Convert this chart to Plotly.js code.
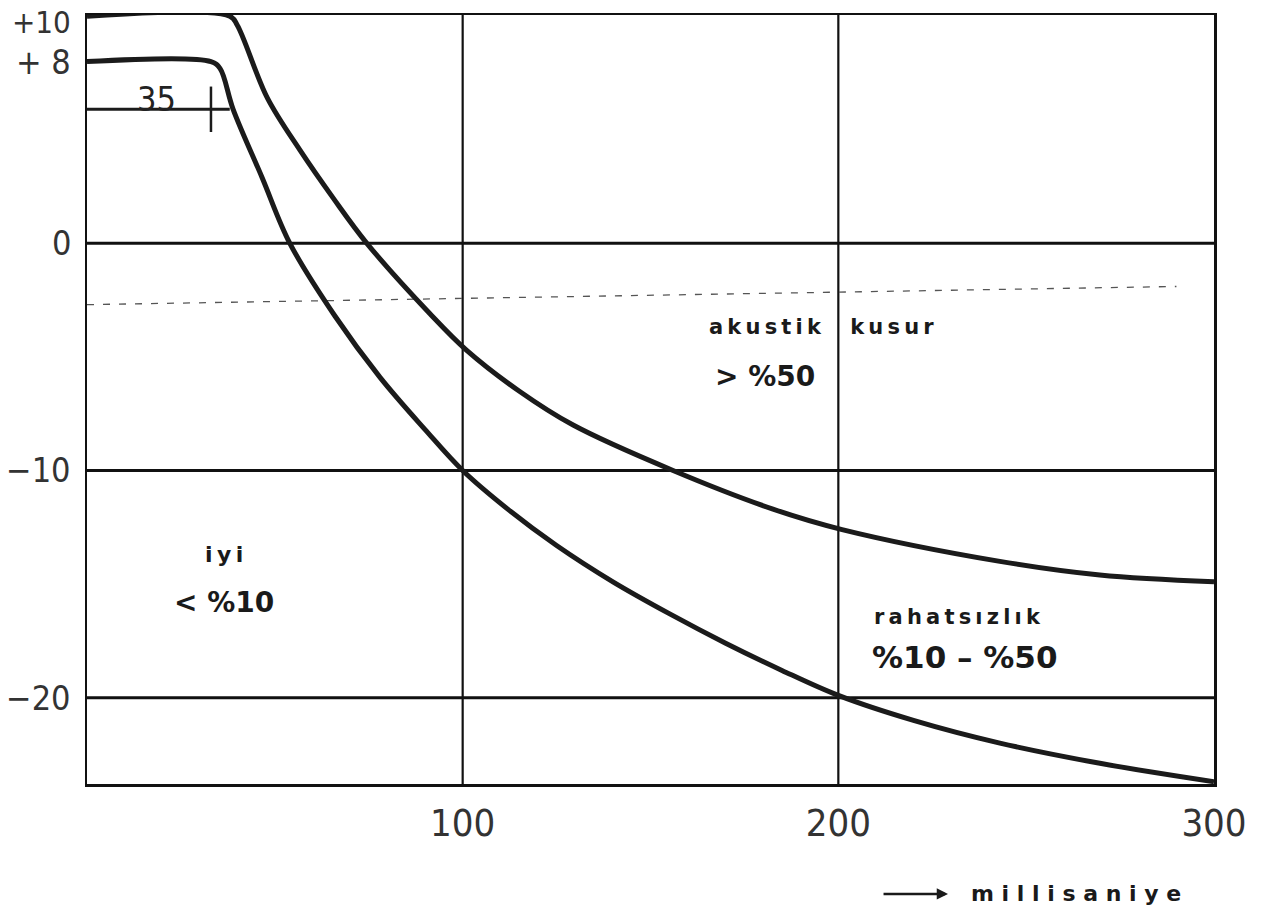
<!DOCTYPE html>
<html>
<head>
<meta charset="utf-8">
<script src="https://cdn.plot.ly/plotly-3.0.1.min.js"></script>
<style>html,body{margin:0;padding:0;background:#fff;}#chart{width:1263px;height:907px;}</style>
</head>
<body>
<div id="chart"></div>
<script>
// ---- data ----
const upperX = [0, 38, 40, 48, 56.7, 65.5, 74.5, 91.3, 101, 115, 129.4, 156, 182.6, 201, 243, 269.6, 300];
const upperY = [10, 10, 9.6, 6.4, 4.1, 2.0, 0, -3.1, -4.7, -6.5, -8.0, -10.0, -11.7, -12.6, -14.0, -14.6, -14.9];

const lowerX = [0, 33, 35.4, 38.9, 46.6, 54, 66, 78, 90, 100, 112, 125, 140, 155, 170, 185, 200, 220, 243, 270, 300];
const lowerY = [8, 8, 7.7, 5.9, 2.9, 0, -3.2, -5.9, -8.2, -10.0, -11.7, -13.3, -14.9, -16.3, -17.6, -18.8, -19.9, -21.0, -22.0, -22.9, -23.7];

// reference level line (35 ms marker)
const refLineX = [-4.5, 38];
const refLineY = [5.9, 5.9];
const refTickX = [33, 33];
const refTickY = [6.9, 4.9];
const refLabel = "35";

// faint dashed line
const dashX = [0, 290];
const dashY = [-2.7, -1.9];

const xTickVals = [100, 200, 300];
const xTickText = ["100", "200", "300"];
const yTickVals = [10, 8, 0, -10, -20];
const yTickText = ["+10", "+ 8", "0", "\u221210", "\u221220"];
const gridX = [100, 200];
const gridY = [0, -10, -20];

const T = "\u2009";
const sp = s => s.split("").join(T);
const regionLabels = [
  {x: 165, y: -3.7, text: sp("akustik") + "&nbsp;&nbsp;&nbsp;&nbsp;" + sp("kusur"), size: 21},
  {x: 166.6, y: -5.85, text: "> %50", size: 28},
  {x: 31, y: -13.7, text: sp("iyi"), size: 22},
  {x: 22.6, y: -15.8, text: "< %10", size: 28},
  {x: 209, y: -16.45, text: sp("rahatsızlık"), size: 21},
  {x: 208.4, y: -18.2, text: "%10 – %50", size: 31}
];
const axisName = "millisaniye".split("").join(" ");

// ---- chart ----
const ink = "#1b1b1b";
const tickFont = "DejaVu Sans Condensed, sans-serif";
const traces = [
  {x: dashX, y: dashY, mode: "lines", line: {color: "#555", width: 1.3, dash: "7px,9px"}, hoverinfo: "skip"},
  {x: refLineX, y: refLineY, mode: "lines", line: {color: ink, width: 3}, cliponaxis: false, hoverinfo: "skip"},
  {x: refTickX, y: refTickY, mode: "lines", line: {color: ink, width: 2.5}, cliponaxis: false, hoverinfo: "skip"},
  {x: upperX, y: upperY, mode: "lines", line: {color: ink, width: 5, shape: "spline", smoothing: 1.0}},
  {x: lowerX, y: lowerY, mode: "lines", line: {color: ink, width: 5, shape: "spline", smoothing: 1.0}}
];

const shapes = [];
gridX.forEach(v => shapes.push({type: "line", xref: "x", yref: "paper", x0: v, x1: v, y0: 0, y1: 1, line: {color: "#111", width: 2.2}, layer: "below"}));
gridY.forEach(v => shapes.push({type: "line", xref: "paper", yref: "y", x0: 0, x1: 1, y0: v, y1: v, line: {color: "#111", width: 3}, layer: "below"}));

const annotations = regionLabels.map(l => ({
  x: l.x, y: l.y, xref: "x", yref: "y", text: l.text, showarrow: false,
  xanchor: "left", yanchor: "middle",
  font: {family: "DejaVu Sans", size: l.size, color: "#1a1a1a", weight: "bold"}
}));
// y tick labels drawn as annotations so the one at the top edge is kept
yTickVals.forEach((v, i) => annotations.push({
  x: 0, y: v, xref: "paper", yref: "y", text: yTickText[i], showarrow: false,
  xanchor: "right", yanchor: "middle", xshift: -14, yshift: i === 0 ? -6 : 0,
  font: {family: tickFont, size: i === 0 ? 31 : 34, color: "#333"}
}));
annotations.push({
  x: 18.6, y: 6.35, xref: "x", yref: "y", text: refLabel, showarrow: false,
  xanchor: "center", yanchor: "middle",
  font: {family: tickFont, size: 34, color: "#222"}
});
annotations.push({
  x: 0.764, y: -0.143, xref: "paper", yref: "paper", ax: -66, ay: 0, text: "", showarrow: true,
  arrowhead: 2, arrowsize: 0.9, arrowwidth: 2.5, arrowcolor: "#1a1a1a"
});
annotations.push({
  x: 0.783, y: -0.143, xref: "paper", yref: "paper", text: axisName, showarrow: false,
  xanchor: "left", yanchor: "middle",
  font: {family: "DejaVu Sans", size: 22, color: "#1a1a1a", weight: "bold"}
});

const layout = {
  width: 1263, height: 907,
  margin: {l: 87, r: 49, t: 15, b: 123},
  paper_bgcolor: "#fff", plot_bgcolor: "#fff",
  showlegend: false,
  xaxis: {
    range: [0, 300], tickmode: "array", tickvals: xTickVals, ticktext: xTickText,
    showgrid: false, zeroline: false, ticks: "", ticklabelstandoff: 4,
    showline: true, mirror: true, linecolor: "#111", linewidth: 2.5,
    tickfont: {family: tickFont, size: 38, color: "#333"}
  },
  yaxis: {
    range: [-23.8, 10.05], showticklabels: false,
    showgrid: false, zeroline: false, ticks: "",
    showline: true, mirror: true, linecolor: "#111", linewidth: 2.5
  },
  shapes: shapes,
  annotations: annotations
};

Plotly.newPlot("chart", traces, layout, {staticPlot: true});
</script>
</body>
</html>
